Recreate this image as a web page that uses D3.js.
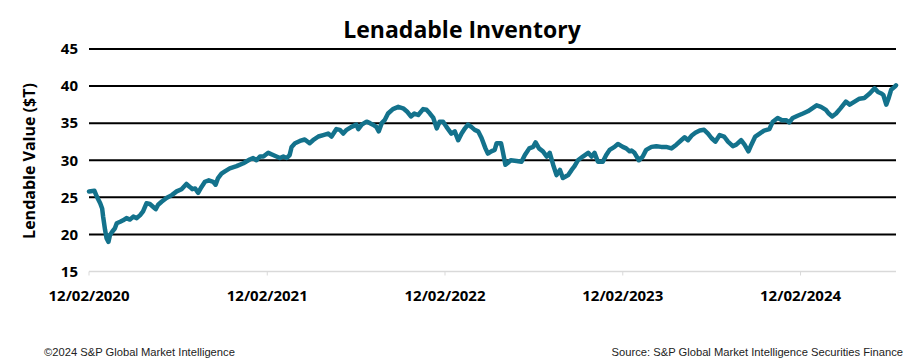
<!DOCTYPE html>
<meta charset="utf-8">
<style>
body { margin: 0; background: #fff; }
svg { display: block; }
.title { font-family: "Liberation Sans Narrow", "Open Sans", sans-serif; font-weight: bold; font-size: 23px; fill: #000; }
.tick-label { font-family: "Open Sans", sans-serif; font-weight: bold; font-size: 15px; fill: #000; }
.y-title { font-family: "Open Sans", sans-serif; font-weight: bold; font-size: 16px; fill: #000; }
.grid line { stroke: #000; stroke-width: 2; }
.foot { font-family: "Liberation Sans Narrow", sans-serif; font-size: 11.2px; fill: #222; }
</style>
<body>
<script src="https://d3js.org/d3.v7.min.js"></script>
<script>
var width = 912
var height = 364

// lendable value, $T
var dates = [
  '2020-02-12','2020-02-23','2020-02-28','2020-03-06','2020-03-10','2020-03-12','2020-03-16','2020-03-19',
  '2020-03-23','2020-03-26','2020-03-31','2020-04-05','2020-04-09','2020-04-16','2020-04-22','2020-04-29',
  '2020-05-06','2020-05-13','2020-05-20','2020-05-27','2020-06-02','2020-06-09','2020-06-16','2020-06-23',
  '2020-06-28','2020-07-03','2020-07-10','2020-07-20','2020-07-31','2020-08-10','2020-08-20','2020-08-30',
  '2020-09-06','2020-09-11','2020-09-17','2020-09-23','2020-09-30','2020-10-07','2020-10-15','2020-10-24',
  '2020-10-29','2020-11-03','2020-11-10','2020-11-17','2020-11-27','2020-12-11','2020-12-25','2021-01-07',
  '2021-01-14','2021-01-21','2021-01-28','2021-02-04','2021-02-14','2021-02-24','2021-03-03','2021-03-10',
  '2021-03-17','2021-03-24','2021-03-30','2021-04-03','2021-04-10','2021-04-20','2021-04-30','2021-05-10',
  '2021-05-17','2021-05-28','2021-06-07','2021-06-17','2021-06-24','2021-07-04','2021-07-11','2021-07-18',
  '2021-07-25','2021-08-04','2021-08-14','2021-08-18','2021-08-25','2021-09-04','2021-09-11','2021-09-17',
  '2021-09-24','2021-09-29','2021-10-05','2021-10-11','2021-10-18','2021-10-28','2021-11-08','2021-11-18',
  '2021-11-27','2021-12-04','2021-12-11','2021-12-19','2021-12-29','2022-01-05','2022-01-12','2022-01-19',
  '2022-01-26','2022-02-01','2022-02-08','2022-02-15','2022-02-25','2022-03-04','2022-03-11','2022-03-18',
  '2022-03-25','2022-03-31','2022-04-07','2022-04-14','2022-04-21','2022-04-28','2022-05-06','2022-05-11',
  '2022-05-18','2022-05-25','2022-05-29','2022-06-07','2022-06-10','2022-06-16','2022-06-20','2022-06-27',
  '2022-07-09','2022-07-19','2022-07-26','2022-08-04','2022-08-12','2022-08-17','2022-08-24','2022-09-01',
  '2022-09-09','2022-09-15','2022-09-22','2022-09-29','2022-10-06','2022-10-12','2022-10-23','2022-10-30',
  '2022-11-05','2022-11-12','2022-11-22','2022-12-03','2022-12-10','2022-12-16','2022-12-23','2023-01-02',
  '2023-01-09','2023-01-16','2023-01-26','2023-02-02','2023-02-12','2023-02-19','2023-02-26','2023-03-02',
  '2023-03-08','2023-03-17','2023-03-25','2023-04-01','2023-04-12','2023-04-22','2023-05-02','2023-05-12',
  '2023-05-23','2023-06-02','2023-06-12','2023-06-19','2023-06-26','2023-07-03','2023-07-11','2023-07-20',
  '2023-07-29','2023-08-06','2023-08-13','2023-08-21','2023-08-30','2023-09-08','2023-09-16','2023-09-26',
  '2023-10-03','2023-10-13','2023-10-20','2023-10-28','2023-11-03','2023-11-11','2023-11-20','2023-11-29',
  '2023-12-10','2023-12-17','2023-12-27','2024-01-05','2024-01-14','2024-01-20','2024-01-27','2024-02-06',
  '2024-02-17','2024-02-27','2024-03-07','2024-03-16','2024-03-25','2024-04-04','2024-04-10','2024-04-17',
  '2024-04-25','2024-05-04','2024-05-15','2024-05-23','2024-06-02','2024-06-12','2024-06-22','2024-07-03',
  '2024-07-13','2024-07-20','2024-07-27','2024-07-31','2024-08-06','2024-08-11','2024-08-16','2024-08-23',
  '2024-08-26'
]
var values = [
  25.8, 25.9, 25.1, 24.2, 23.5, 22.4, 20.6, 19.5,
  19.0, 19.9, 20.4, 20.8, 21.5, 21.7, 21.9, 22.2,
  22.0, 22.4, 22.2, 22.6, 23.1, 24.2, 24.1, 23.7,
  23.4, 24.0, 24.4, 24.9, 25.3, 25.8, 26.1, 26.8,
  26.4, 26.1, 26.2, 25.6, 26.4, 27.1, 27.3, 27.1,
  26.7, 27.6, 28.2, 28.5, 28.9, 29.2, 29.6, 30.1,
  30.3, 30.0, 30.5, 30.5, 31.0, 30.7, 30.5, 30.3,
  30.5, 30.3, 30.7, 31.8, 32.3, 32.6, 32.8, 32.3,
  32.7, 33.2, 33.4, 33.6, 33.2, 34.2, 34.1, 33.6,
  34.1, 34.5, 34.8, 34.2, 34.8, 35.2, 35.0, 34.8,
  34.5, 33.9, 35.0, 35.4, 36.3, 36.9, 37.2, 37.0,
  36.5, 35.9, 36.3, 36.1, 36.9, 36.8, 36.3, 35.7,
  34.3, 35.2, 35.2, 34.5, 33.6, 33.9, 32.7, 33.6,
  34.3, 34.8, 34.5, 34.1, 33.9, 33.0, 31.6, 30.9,
  31.2, 31.4, 32.3, 32.3, 31.4, 29.4, 29.6, 30.0,
  29.9, 29.8, 30.7, 31.6, 31.8, 32.4, 31.6, 31.2,
  30.5, 31.0, 29.4, 28.0, 28.7, 27.6, 28.0, 28.7,
  29.2, 30.0, 30.5, 31.0, 30.5, 31.0, 29.8, 29.8,
  30.7, 31.4, 31.8, 32.2, 31.8, 31.6, 31.2, 31.3,
  31.0, 30.0, 30.5, 31.4, 31.8, 31.9, 31.8, 31.8,
  31.6, 32.1, 32.7, 33.1, 32.7, 33.3, 33.7, 34.0,
  34.1, 33.6, 33.0, 32.5, 33.4, 33.2, 32.5, 31.9,
  32.1, 32.7, 32.1, 31.2, 32.1, 33.2, 33.6, 34.0,
  34.2, 35.2, 35.7, 35.4, 35.4, 35.1, 35.7, 36.0,
  36.3, 36.6, 37.0, 37.4, 37.2, 36.8, 36.3, 35.9,
  36.3, 37.0, 37.9, 37.5, 37.9, 38.3, 38.4, 39.0,
  39.7, 39.2, 39.0, 38.8, 37.5, 38.4, 39.5, 39.9,
  40.1
]

var yTicks = [15, 20, 25, 30, 35, 40, 45]
var xTickDates = ['2020-02-12', '2021-02-12', '2022-02-12', '2023-02-12', '2024-02-12']

var parse = d3.timeParse('%Y-%m-%d')
var fmt = d3.timeFormat('%d/%m/%Y')

var data = dates.map(function (d, i) { return { date: parse(d), value: values[i] } })

var x = d3.scaleTime()
    .domain([parse('2020-02-12'), parse('2024-08-26')])
    .range([89, 896])

var y = d3.scaleLinear()
    .domain([15, 45])
    .range([271.5, 49])

var svg = d3.select('body').append('svg')
    .attr('width', width)
    .attr('height', height)

svg.append('text')
    .attr('class', 'title')
    .attr('x', 462)
    .attr('y', 38)
    .attr('text-anchor', 'middle')
    .text('Lenadable Inventory')

// horizontal gridlines (black), baseline at 15 is light grey
var grid = svg.append('g').attr('class', 'grid')
grid.selectAll('line')
    .data(yTicks.filter(function (v) { return v > 15 }))
    .enter().append('line')
    .attr('x1', 89).attr('x2', 896)
    .attr('y1', function (d) { return y(d) })
    .attr('y2', function (d) { return y(d) })

svg.append('line')
    .attr('x1', 89).attr('x2', 896)
    .attr('y1', y(15)).attr('y2', y(15))
    .attr('stroke', '#d9d9d9').attr('stroke-width', 1.5)

svg.append('g').selectAll('line')
    .data(xTickDates)
    .enter().append('line')
    .attr('x1', function (d) { return x(parse(d)) })
    .attr('x2', function (d) { return x(parse(d)) })
    .attr('y1', y(15)).attr('y2', y(15) + 4)
    .attr('stroke', '#d9d9d9').attr('stroke-width', 1)

svg.append('g').selectAll('text')
    .data(yTicks)
    .enter().append('text')
    .attr('class', 'tick-label')
    .attr('x', 78)
    .attr('y', function (d) { return y(d) })
    .attr('dy', '0.35em')
    .attr('text-anchor', 'end')
    .text(function (d) { return d })

svg.append('g').selectAll('text')
    .data(xTickDates)
    .enter().append('text')
    .attr('class', 'tick-label')
    .attr('x', function (d) { return x(parse(d)) })
    .attr('y', 301)
    .attr('text-anchor', 'middle')
    .text(function (d) { return fmt(parse(d)) })

svg.append('text')
    .attr('class', 'y-title')
    .attr('transform', 'translate(35,161) rotate(-90)')
    .attr('text-anchor', 'middle')
    .text('Lendable Value ($T)')

var line = d3.line()
    .x(function (d) { return x(d.date) })
    .y(function (d) { return y(d.value) })

svg.append('path')
    .datum(data)
    .attr('d', line)
    .attr('fill', 'none')
    .attr('stroke', '#13728c')
    .attr('stroke-width', 4.5)
    .attr('stroke-linejoin', 'round')
    .attr('stroke-linecap', 'round')

svg.append('text')
    .attr('class', 'foot')
    .attr('x', 44)
    .attr('y', 356)
    .text('©2024 S&P Global Market Intelligence')

svg.append('text')
    .attr('class', 'foot')
    .attr('x', 903)
    .attr('y', 356)
    .attr('text-anchor', 'end')
    .text('Source: S&P Global Market Intelligence Securities Finance')
</script>
</body>
